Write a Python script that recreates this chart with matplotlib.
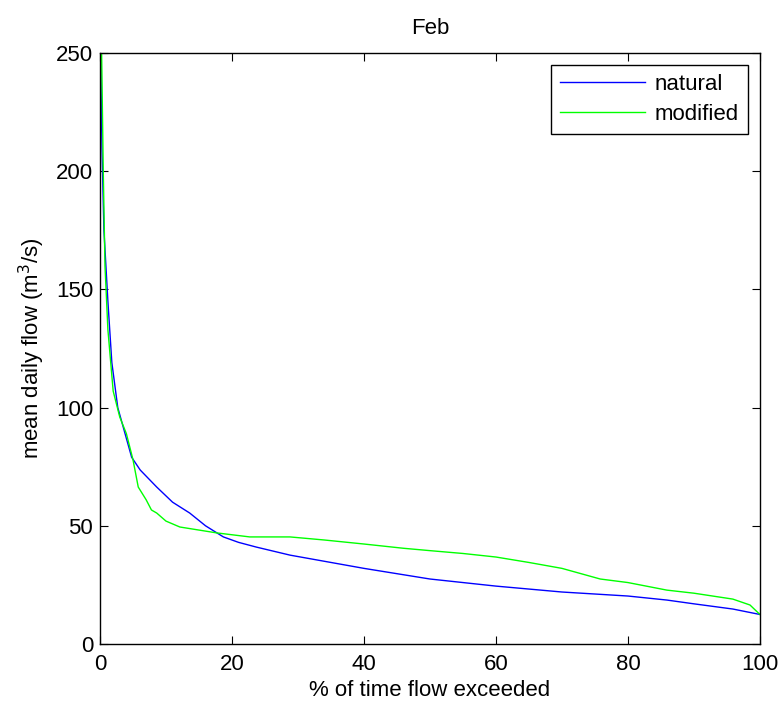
import matplotlib
matplotlib.use('Agg')
import matplotlib.pyplot as plt

plt.rcParams['font.family'] = ['Liberation Sans', 'DejaVu Sans']

# flow duration curve
natural_pct = [0, 0.05, 0.3, 0.6, 1.0, 1.2, 1.8, 2.7, 3.5, 4.8, 6.1, 8.6, 11, 13.6, 16, 18.7,
               21, 23.7, 28.8, 35, 40, 50, 60, 70, 80, 85.9, 90, 95.9, 100]
natural_flow = [300, 260, 210, 175, 155, 145, 119, 100, 92, 79, 73.6, 66.4, 60, 55.4, 50, 45.3,
                43, 41, 37.6, 34.5, 32, 27.5, 24.5, 22, 20.3, 18.6, 17, 14.8, 12.5]

modified_pct = [0, 0.25, 0.5, 0.76, 1.2, 2, 3, 4, 5, 5.8, 7, 7.8, 8.6, 10, 12.1, 17.7, 22.7,
                28.8, 34, 40, 46, 50, 55, 60, 65, 70, 75.8, 80, 85.9, 90, 95.9, 98.5, 100]
modified_flow = [300, 250, 200, 160, 133, 107, 96, 89, 78, 66.4, 61, 56.7, 55.4, 52, 49.5, 47, 45.3,
                 45.3, 44, 42.3, 40.5, 39.5, 38.3, 36.8, 34.5, 32, 27.5, 26, 22.8, 21.5, 19, 16.5, 12.5]

fs = 16

fig = plt.figure(figsize=(7.81, 7.04), dpi=100)
ax = fig.add_axes([0.128, 0.0852, 0.845, 0.8395])

ax.plot(natural_pct, natural_flow, color=(0, 0, 1), lw=1, label='natural')
ax.plot(modified_pct, modified_flow, color=(0, 1, 0), lw=1, label='modified')

ax.set_xlim(0, 100)
ax.set_ylim(0, 250)
ax.set_xticks([0, 20, 40, 60, 80, 100])
ax.set_yticks([0, 50, 100, 150, 200, 250])
ax.tick_params(direction='in', top=True, right=True, labelsize=fs, length=6)
ax.tick_params(axis='x', pad=7)
ax.tick_params(axis='y', pad=5)
for s in ax.spines.values():
    s.set_linewidth(1)

ax.set_title('Feb', fontsize=fs, pad=14)
ax.set_xlabel('% of time flow exceeded', fontsize=fs, labelpad=4)
ax.set_ylabel('mean daily flow (m$^3$/s)', fontsize=fs, labelpad=6)

leg = ax.legend(loc='upper right', fontsize=fs, fancybox=False, framealpha=1,
                edgecolor='black', borderaxespad=0.55, handlelength=3.8,
                borderpad=0.4, labelspacing=0.4, handletextpad=0.45)
leg.get_frame().set_linewidth(1)

fig.savefig('out.png', dpi=100)
